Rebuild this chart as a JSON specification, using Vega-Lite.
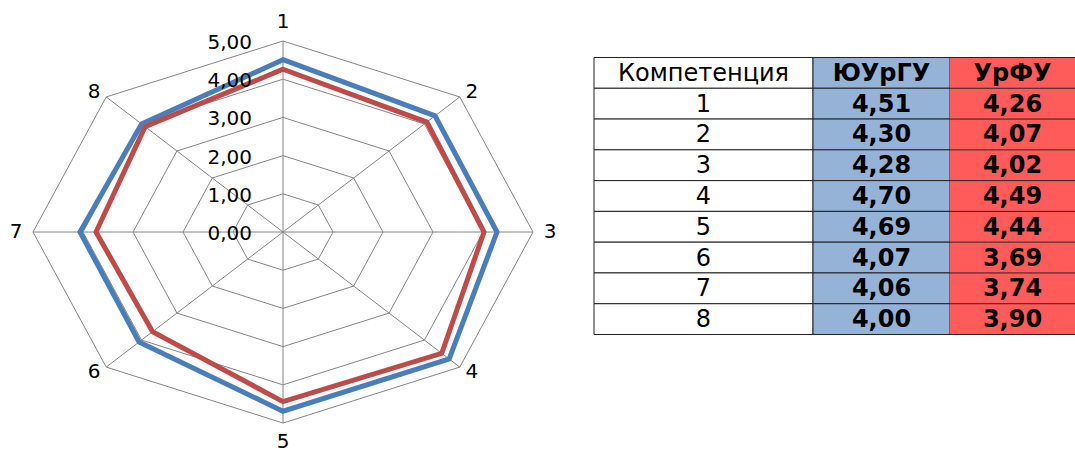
{
  "$schema": "https://vega.github.io/schema/vega-lite/v6.json",
  "padding": 0,
  "spacing": 0,
  "bounds": "flush",
  "background": "white",
  "config": {"view": {"stroke": null}, "concat": {"spacing": 0}},
  "datasets": {
    "scores": [
      {"k": 1, "u": "ЮУрГУ", "v": 4.51}, {"k": 2, "u": "ЮУрГУ", "v": 4.30}, {"k": 3, "u": "ЮУрГУ", "v": 4.28}, {"k": 4, "u": "ЮУрГУ", "v": 4.70},
      {"k": 5, "u": "ЮУрГУ", "v": 4.69}, {"k": 6, "u": "ЮУрГУ", "v": 4.07}, {"k": 7, "u": "ЮУрГУ", "v": 4.06}, {"k": 8, "u": "ЮУрГУ", "v": 4.00},
      {"k": 1, "u": "УрФУ", "v": 4.26}, {"k": 2, "u": "УрФУ", "v": 4.07}, {"k": 3, "u": "УрФУ", "v": 4.02}, {"k": 4, "u": "УрФУ", "v": 4.49},
      {"k": 5, "u": "УрФУ", "v": 4.44}, {"k": 6, "u": "УрФУ", "v": 3.69}, {"k": 7, "u": "УрФУ", "v": 3.74}, {"k": 8, "u": "УрФУ", "v": 3.90}
    ],
    "grid": [
      {"k": 1, "lv": [1, 2, 3, 4, 5]}, {"k": 2, "lv": [1, 2, 3, 4, 5]}, {"k": 3, "lv": [1, 2, 3, 4, 5]}, {"k": 4, "lv": [1, 2, 3, 4, 5]},
      {"k": 5, "lv": [1, 2, 3, 4, 5]}, {"k": 6, "lv": [1, 2, 3, 4, 5]}, {"k": 7, "lv": [1, 2, 3, 4, 5]}, {"k": 8, "lv": [1, 2, 3, 4, 5]}
    ],
    "ticks": [
      {"v": 0, "t": "0,00"}, {"v": 1, "t": "1,00"}, {"v": 2, "t": "2,00"}, {"v": 3, "t": "3,00"}, {"v": 4, "t": "4,00"}, {"v": 5, "t": "5,00"}
    ],
    "table": [
      {"row": 0, "c1": "Компетенция", "c2": "ЮУрГУ", "c3": "УрФУ"},
      {"row": 1, "c1": "1", "c2": "4,51", "c3": "4,26"},
      {"row": 2, "c1": "2", "c2": "4,30", "c3": "4,07"},
      {"row": 3, "c1": "3", "c2": "4,28", "c3": "4,02"},
      {"row": 4, "c1": "4", "c2": "4,70", "c3": "4,49"},
      {"row": 5, "c1": "5", "c2": "4,69", "c3": "4,44"},
      {"row": 6, "c1": "6", "c2": "4,07", "c3": "3,69"},
      {"row": 7, "c1": "7", "c2": "4,06", "c3": "3,74"},
      {"row": 8, "c1": "8", "c2": "4,00", "c3": "3,90"}
    ]
  },
  "hconcat": [
    {
      "width": 594,
      "height": 454,
      "layer": [
        {
          "data": {"name": "grid"},
          "transform": [
            {"flatten": ["lv"]},
            {"calculate": "(datum.k-1)*PI/4", "as": "a"},
            {"calculate": "datum.lv*sin(datum.a)", "as": "gx"},
            {"calculate": "datum.lv*cos(datum.a)", "as": "gy"}
          ],
          "mark": {"type": "line", "interpolate": "linear-closed", "stroke": "#868686", "strokeWidth": 1},
          "encoding": {
            "x": {"field": "gx", "type": "quantitative", "scale": {"domain": [-5.66, 6.22], "nice": false, "zero": false}, "axis": null},
            "y": {"field": "gy", "type": "quantitative", "scale": {"domain": [-5.81, 6.073], "nice": false, "zero": false}, "axis": null},
            "detail": {"field": "lv", "type": "nominal"},
            "order": {"field": "k", "type": "quantitative"}
          }
        },
        {
          "data": {"name": "grid"},
          "transform": [
            {"calculate": "(datum.k-1)*PI/4", "as": "a"},
            {"calculate": "5*sin(datum.a)", "as": "sx"},
            {"calculate": "5*cos(datum.a)", "as": "sy"}
          ],
          "mark": {"type": "rule", "stroke": "#868686", "strokeWidth": 1},
          "encoding": {
            "x": {"field": "sx", "type": "quantitative"},
            "y": {"field": "sy", "type": "quantitative"},
            "x2": {"datum": 0},
            "y2": {"datum": 0}
          }
        },
        {
          "data": {"name": "scores"},
          "transform": [
            {"calculate": "(datum.k-1)*PI/4", "as": "a"},
            {"calculate": "datum.v*sin(datum.a)", "as": "px"},
            {"calculate": "datum.v*cos(datum.a)", "as": "py"}
          ],
          "mark": {"type": "line", "interpolate": "linear-closed", "strokeWidth": 5, "strokeJoin": "miter"},
          "encoding": {
            "x": {"field": "px", "type": "quantitative"},
            "y": {"field": "py", "type": "quantitative"},
            "color": {"field": "u", "type": "nominal", "scale": {"domain": ["ЮУрГУ", "УрФУ"], "range": ["#4A7EBB", "#BE4B48"]}, "legend": null},
            "order": {"field": "k", "type": "quantitative"}
          }
        },
        {
          "data": {"name": "ticks"},
          "mark": {"type": "text", "align": "right", "baseline": "middle", "dx": -31, "dy": 2, "font": "DejaVu Sans", "fontSize": 20, "fill": "#000000"},
          "encoding": {
            "x": {"datum": 0, "type": "quantitative"},
            "y": {"field": "v", "type": "quantitative"},
            "text": {"field": "t"}
          }
        },
        {
          "data": {"name": "grid"},
          "transform": [
            {"calculate": "(datum.k-1)*PI/4", "as": "a"},
            {"calculate": "5.34*sin(datum.a)", "as": "lx"},
            {"calculate": "abs(cos(datum.a)) > 0.99 ? 5.5*cos(datum.a) : 5.18*cos(datum.a)", "as": "ly"}
          ],
          "mark": {"type": "text", "align": "center", "baseline": "middle", "font": "DejaVu Sans", "fontSize": 20, "fill": "#000000"},
          "encoding": {
            "x": {"field": "lx", "type": "quantitative"},
            "y": {"field": "ly", "type": "quantitative"},
            "text": {"field": "k", "type": "nominal"}
          }
        }
      ]
    },
    {
      "width": 219,
      "height": 454,
      "data": {"name": "table"},
      "layer": [
        {
          "mark": {"type": "rect", "fill": "#FFFFFF", "stroke": "#222222", "strokeWidth": 1},
          "encoding": {
            "y": {"field": "row", "type": "ordinal", "scale": {"range": [57.5, 334.5], "paddingInner": 0, "paddingOuter": 0}, "axis": null}
          }
        },
        {
          "mark": {"type": "text", "align": "center", "baseline": "middle", "dy": 1, "font": "DejaVu Sans", "fontSize": 24, "fill": "#000000"},
          "encoding": {
            "y": {"field": "row", "type": "ordinal", "axis": null},
            "text": {"field": "c1"}
          }
        }
      ]
    },
    {
      "width": 137,
      "height": 454,
      "data": {"name": "table"},
      "layer": [
        {
          "mark": {"type": "rect", "fill": "#95B3D7", "stroke": "#222222", "strokeWidth": 1},
          "encoding": {
            "y": {"field": "row", "type": "ordinal", "scale": {"range": [57.5, 334.5], "paddingInner": 0, "paddingOuter": 0}, "axis": null}
          }
        },
        {
          "mark": {"type": "text", "align": "center", "baseline": "middle", "dy": 1, "font": "DejaVu Sans", "fontSize": 24, "fontWeight": "bold", "fill": "#000000"},
          "encoding": {
            "y": {"field": "row", "type": "ordinal", "axis": null},
            "text": {"field": "c2"}
          }
        }
      ]
    },
    {
      "width": 125,
      "height": 454,
      "data": {"name": "table"},
      "layer": [
        {
          "mark": {"type": "rect", "fill": "#FF5B5B"},
          "encoding": {
            "y": {"field": "row", "type": "ordinal", "scale": {"range": [57.5, 334.5], "paddingInner": 0, "paddingOuter": 0}, "axis": null}
          }
        },
        {
          "mark": {"type": "rule", "stroke": "#222222", "strokeWidth": 1},
          "encoding": {
            "y": {"field": "row", "type": "ordinal", "bandPosition": 0, "axis": null}
          }
        },
        {
          "transform": [{"filter": "datum.row == 8"}],
          "mark": {"type": "rule", "stroke": "#222222", "strokeWidth": 1},
          "encoding": {
            "y": {"field": "row", "type": "ordinal", "bandPosition": 1, "axis": null}
          }
        },
        {
          "mark": {"type": "text", "align": "center", "baseline": "middle", "dy": 1, "font": "DejaVu Sans", "fontSize": 24, "fontWeight": "bold", "fill": "#000000"},
          "encoding": {
            "y": {"field": "row", "type": "ordinal", "axis": null},
            "text": {"field": "c3"}
          }
        }
      ]
    }
  ]
}
